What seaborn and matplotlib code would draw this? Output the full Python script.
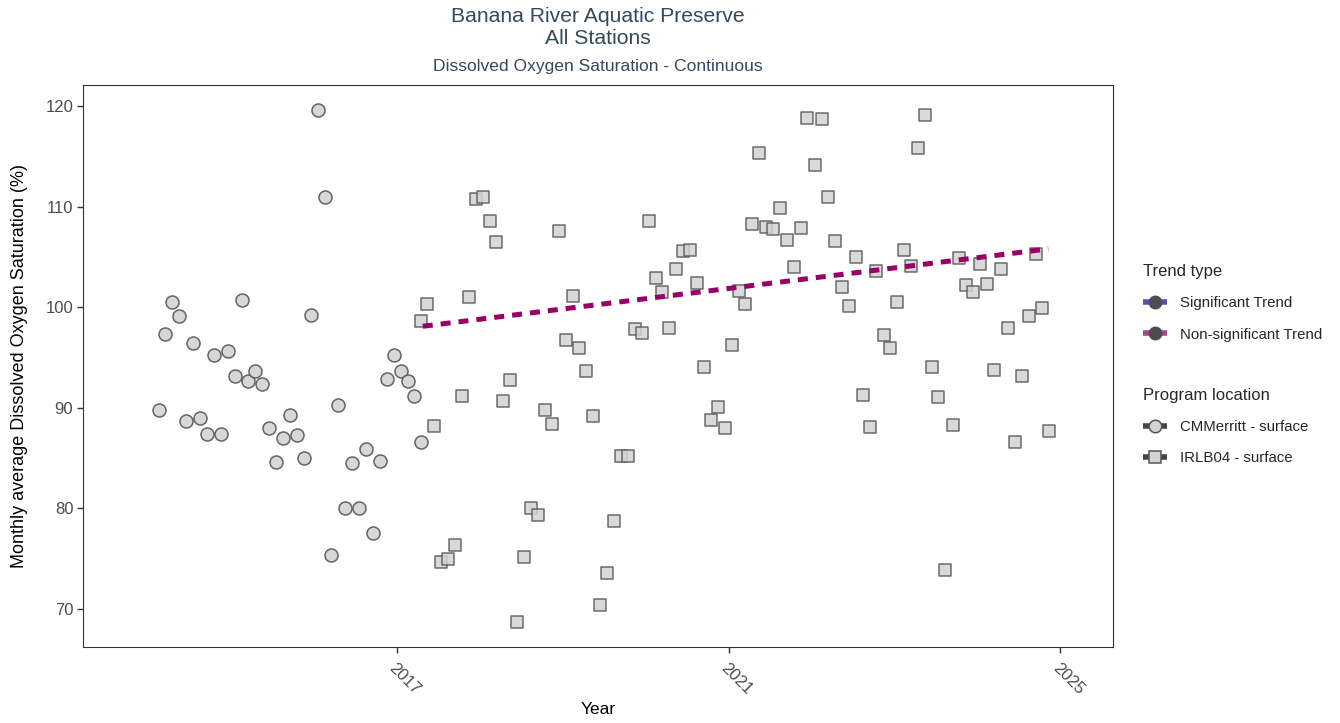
import pandas as pd
import numpy as np
import matplotlib
matplotlib.use('Agg')
import matplotlib.pyplot as plt
from matplotlib.lines import Line2D
import seaborn as sns

# monthly averages, CMMerritt - surface (Feb 2014 - Apr 2017)
cm_start = '2014-02-01'
cm_values = [89.8, 97.3, 100.5, 99.1, 88.7, 96.4, 89.0, 87.4, 95.2, 87.4,
             95.6, 93.2, 100.7, 92.7, 93.7, 92.4, 88.0, 84.6, 87.0, 89.3,
             87.3, 85.0, 99.2, 119.6, 111.0, 75.4, 90.3, 80.0, 84.5, 80.0,
             85.9, 77.5, 84.7, 92.9, 95.2, 93.7, 92.7, 91.2, 86.6]

# monthly averages, IRLB04 - surface (Apr 2017 - Nov 2024)
irl_start = '2017-04-01'
irl_values = [98.6, 100.3, 88.2, 74.7, 75.0, 76.3, 91.2, 101.0, 110.8, 111.0,
              108.6, 106.5, 90.7, 92.8, 68.7, 75.2, 80.0, 79.3, 89.8, 88.4,
              107.6, 96.7, 101.1, 95.9, 93.7, 89.2, 70.4, 73.6, 78.7, 85.2,
              85.2, 97.8, 97.4, 108.6, 102.9, 101.5, 97.9, 103.8, 105.6, 105.7,
              102.4, 94.1, 88.8, 90.1, 88.0, 96.2, 101.6, 100.3, 108.3, 115.3,
              108.0, 107.8, 109.9, 106.7, 104.0, 107.9, 118.8, 114.1, 118.7, 111.0,
              106.6, 102.0, 100.1, 105.0, 91.3, 88.1, 103.6, 97.2, 95.9, 100.5,
              105.7, 104.1, 115.8, 119.1, 94.1, 91.1, 73.9, 88.3, 104.9, 102.2,
              101.5, 104.3, 102.3, 93.8, 103.8, 97.9, 86.6, 93.2, 99.1, 105.3,
              99.9, 87.7]

# non-significant trend line (start / end)
trend_dates = ['2017-04-25', '2024-11-10']
trend_values = [98.1, 105.8]

x_ticks = ['2017-01-01', '2021-01-01', '2025-01-01']
x_tick_labels = ['2017', '2021', '2025']
y_ticks = [70, 80, 90, 100, 110, 120]

# mid-month dates
cm = pd.DataFrame({'date': pd.date_range(cm_start, periods=len(cm_values), freq='MS') + pd.Timedelta(days=17),
                   'value': cm_values})
irl = pd.DataFrame({'date': pd.date_range(irl_start, periods=len(irl_values), freq='MS') + pd.Timedelta(days=14),
                    'value': irl_values})
trend = pd.DataFrame({'date': pd.to_datetime(trend_dates), 'value': trend_values})

sns.set_theme(style='white')
plt.rcParams['font.family'] = ['Liberation Sans', 'DejaVu Sans']

fig = plt.figure(figsize=(13.4, 7.23), dpi=100)
ax = fig.add_axes([83 / 1340, 1 - 647 / 723, (1113 - 83) / 1340, (647 - 85) / 723])

fill = '#D3D3D3'
edge = '#555555'
sns.scatterplot(data=cm, x='date', y='value', marker='o', s=88, color=fill,
                edgecolor=edge, linewidth=1.1, alpha=0.9, ax=ax, zorder=2)
sns.scatterplot(data=irl, x='date', y='value', marker='s', s=70, color=fill,
                edgecolor=edge, linewidth=1.1, alpha=0.85, ax=ax, zorder=2)
sns.lineplot(data=trend, x='date', y='value', color='#990066', linewidth=3.6,
             linestyle=(0, (2.0, 1.6)), ax=ax, zorder=3)

ax.set_xlim(pd.Timestamp('2013-03-20'), pd.Timestamp('2025-08-22'))
ax.set_ylim(66.2, 122.1)
ax.set_xticks(pd.to_datetime(x_ticks))
ax.set_xticklabels(x_tick_labels, rotation=-45, ha='left', va='top', rotation_mode='anchor')
ax.set_yticks(y_ticks)
ax.tick_params(axis='both', which='major', length=4, width=1, color='#333333',
               labelsize=12, labelcolor='#4D4D4D', direction='out', bottom=True, left=True)
ax.tick_params(axis='x', pad=6)
ax.tick_params(axis='y', pad=3)
for sp in ax.spines.values():
    sp.set_color('#333333')
    sp.set_linewidth(0.8)
ax.grid(False)

ax.set_xlabel('Year', fontsize=12.5, color='black')
ax.set_ylabel('Monthly average Dissolved Oxygen Saturation (%)', fontsize=13, color='black')
ax.xaxis.set_label_coords(0.5, -(702 - 647) / 562)
ax.yaxis.set_label_coords(-(83 - 28) / 1030, 0.5)

cx = (83 + 1113) / 2 / 1340
title_col = '#34495E'
fig.text(cx, 1 - 16 / 723, 'Banana River Aquatic Preserve', ha='center', va='center', fontsize=15.2, color=title_col)
fig.text(cx, 1 - 38 / 723, 'All Stations', ha='center', va='center', fontsize=15.2, color=title_col)
fig.text(cx, 1 - 66 / 723, 'Dissolved Oxygen Saturation - Continuous', ha='center', va='center', fontsize=12.6, color=title_col)

# legends
trend_handles = [
    Line2D([], [], color=(0.2, 0.2, 0.7, 0.85), lw=4, solid_capstyle='butt', marker='o', markersize=9,
           markerfacecolor='#4D4D4D', markeredgecolor='#4D4D4D'),
    Line2D([], [], color=(0.6, 0.15, 0.45, 0.85), lw=4, solid_capstyle='butt', marker='o', markersize=9,
           markerfacecolor='#4D4D4D', markeredgecolor='#4D4D4D'),
]
loc_handles = [
    Line2D([], [], color='#444444', lw=4, solid_capstyle='butt', marker='o', markersize=9,
           markerfacecolor=fill, markeredgecolor=edge, markeredgewidth=1.1),
    Line2D([], [], color='#444444', lw=4, solid_capstyle='butt', marker='s', markersize=8,
           markerfacecolor=fill, markeredgecolor=edge, markeredgewidth=1.1),
]
common = dict(frameon=False, fontsize=10.8, title_fontsize=12, handlelength=1.6,
              handletextpad=0.9, labelspacing=1.15, alignment='left', borderaxespad=0)
leg1 = fig.legend(trend_handles, ['Significant Trend', 'Non-significant Trend'], title='Trend type',
                  loc='upper left', bbox_to_anchor=(1137 / 1340, 1 - 258 / 723), **common)
leg2 = fig.legend(loc_handles, ['CMMerritt - surface', 'IRLB04 - surface'], title='Program location',
                  loc='upper left', bbox_to_anchor=(1137 / 1340, 1 - 382 / 723), **common)

fig.savefig('out.png', dpi=100)
